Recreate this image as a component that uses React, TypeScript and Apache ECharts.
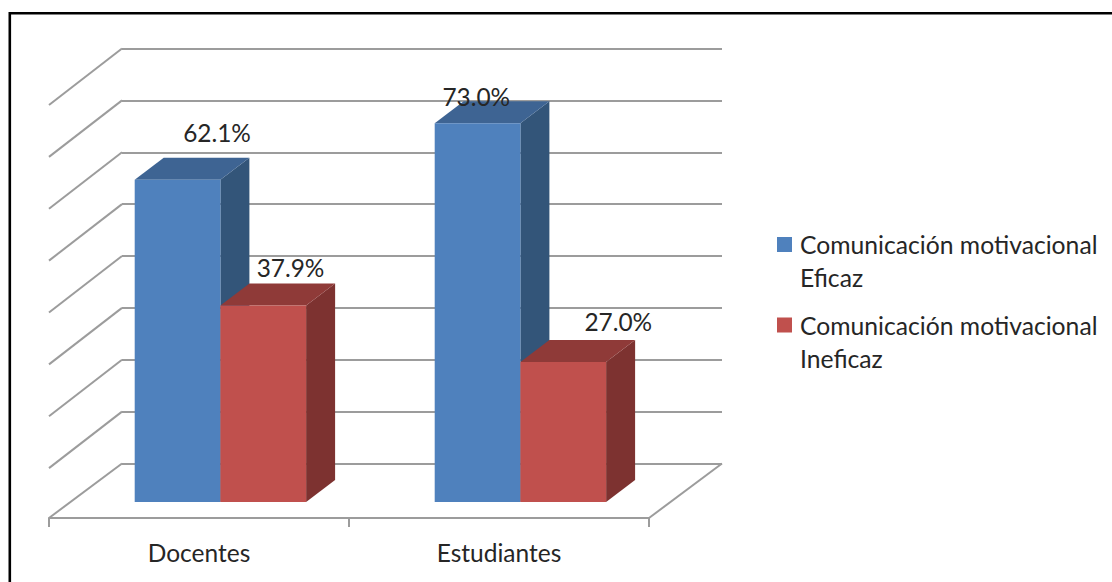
import React, { useEffect, useRef } from "react";
import * as echarts from "echarts";

const categories = ["Docentes", "Estudiantes"];
const seriesNames = ["Comunicación motivacional Eficaz", "Comunicación motivacional Ineficaz"];
const eficaz = [62.1, 73.0];
const ineficaz = [37.9, 27.0];
const yTicks = [0, 10, 20, 30, 40, 50, 60, 70, 80];

const FONT = "Lato";
const TEXT = "#262626";
const GRID_LINE = "#9c9c9c";

const faces = [
  { front: "#4f81bd", side: "#335579", top: "#3e6493" },
  { front: "#c0504d", side: "#7d3230", top: "#8f3a38" },
];
// Hand-placed label offsets from the front top centre of each bar, as in the original.
const labelNudge = [
  [[39.5, -47], [-1.3, -27]],
  [[27.3, -38], [55, -40.6]],
];

const DEPTH_X = 29;
const DEPTH_Y = 22;
const BAR_BAND = 85.7 / 300;

const barRender = (seriesIdx: number, fmtValues: number[]) => (params: any, api: any) => {
  const cat = api.value(0);
  const val = api.value(1);
  const [cx, yTop] = api.coord([cat, val]);
  const [, yBase] = api.coord([cat, 0]);
  const w = api.size([1, 0])[0] * BAR_BAND;
  const x0 = seriesIdx === 0 ? cx - w : cx;
  const x1 = x0 + w;
  const f = faces[seriesIdx];
  const n = labelNudge[seriesIdx][cat];
  const poly = (points: number[][], fill: string) => ({
    type: "polygon",
    shape: { points },
    style: { fill, stroke: null },
  });
  return {
    type: "group",
    children: [
      poly(
        [[x1, yTop], [x1 + DEPTH_X, yTop - DEPTH_Y], [x1 + DEPTH_X, yBase - DEPTH_Y], [x1, yBase]],
        f.side
      ),
      poly(
        [[x0, yTop], [x0 + DEPTH_X, yTop - DEPTH_Y], [x1 + DEPTH_X, yTop - DEPTH_Y], [x1, yTop]],
        f.top
      ),
      poly([[x0, yTop], [x1, yTop], [x1, yBase], [x0, yBase]], f.front),
      {
        type: "text",
        x: (x0 + x1) / 2 + n[0],
        y: yTop + n[1],
        z2: 50,
        style: {
          text: fmtValues[cat].toFixed(1) + "%",
          fontFamily: FONT,
          fontSize: 24.4,
          fill: TEXT,
          align: "center",
          verticalAlign: "middle",
        },
      },
    ],
  };
};

const wallRender = (params: any, api: any) => {
  const v = api.value(1);
  const [cx, y] = api.coord([0, v]);
  const bw = api.size([1, 0])[0];
  const left = cx - bw / 2;
  const line = (x1: number, y1: number, x2: number, y2: number) => ({
    type: "line",
    shape: { x1, y1, x2, y2 },
    style: { stroke: GRID_LINE, lineWidth: 2 },
  });
  const dy = v === 0 ? 54.5 : 56.5;
  const children: any[] = [line(left, y, left - 73, y + dy)];
  if (v === 0) children.push(line(left + 2 * bw, y, left + 2 * bw - 73, y + dy));
  return { type: "group", children };
};

const legendIcon = "path://M0 0L0.01 0M0 9H15V24H0ZM18 66L18.01 66";

export default function App() {
  const ref = useRef<HTMLDivElement>(null);
  useEffect(() => {
    const chart = echarts.init(ref.current!, undefined, { renderer: "svg" });
    chart.setOption({
      animation: false,
      backgroundColor: "#ffffff",
      grid: [
        { left: 70.4, top: 87, width: 600, height: 415 },
        { left: 49, top: 418, width: 600, height: 100 },
        { left: 122, top: 48.5, width: 600, height: 415 },
      ],
      xAxis: [
        { type: "category", gridIndex: 0, data: categories, show: false },
        {
          type: "category",
          gridIndex: 1,
          data: categories,
          axisLine: { lineStyle: { color: GRID_LINE, width: 2 } },
          axisTick: { show: true, length: 9, alignWithLabel: false, lineStyle: { color: GRID_LINE, width: 2 } },
          axisLabel: { fontFamily: FONT, fontSize: 24.5, color: TEXT, margin: 22 },
        },
        { type: "category", gridIndex: 2, data: categories, show: false },
      ],
      yAxis: [
        { type: "value", gridIndex: 0, min: 0, max: 80, interval: 10, show: false },
        { type: "value", gridIndex: 1, min: 0, max: 80, interval: 10, show: false },
        {
          type: "value",
          gridIndex: 2,
          min: 0,
          max: 80,
          interval: 10,
          axisLine: { show: false },
          axisTick: { show: false },
          axisLabel: { show: false },
          splitLine: { show: true, lineStyle: { color: GRID_LINE, width: 2 } },
        },
      ],
      legend: {
        orient: "vertical",
        left: 777,
        top: 228,
        padding: 0,
        itemWidth: 18,
        itemHeight: 66,
        itemGap: 14.5,
        icon: legendIcon,
        data: seriesNames,
        selectedMode: false,
        formatter: (name: string) => name.replace(" motivacional ", " motivacional\n"),
        textStyle: { fontFamily: FONT, fontSize: 24.7, color: TEXT, lineHeight: 33 },
      },
      graphic: [
        {
          type: "polyline",
          shape: { points: [[9.8, 582], [9.8, 13.3], [1112, 13.3]] },
          style: { stroke: "#000000", lineWidth: 2.6, fill: null },
          silent: true,
        },
      ],
      series: [
        {
          type: "custom",
          name: "walls",
          xAxisIndex: 2,
          yAxisIndex: 2,
          silent: true,
          z: 1,
          data: yTicks.map((v) => [0, v]),
          renderItem: wallRender,
        },
        {
          type: "custom",
          name: seriesNames[0],
          xAxisIndex: 0,
          yAxisIndex: 0,
          silent: true,
          z: 3,
          itemStyle: { color: faces[0].front },
          data: eficaz.map((v, i) => [i, v]),
          renderItem: barRender(0, eficaz),
        },
        {
          type: "custom",
          name: seriesNames[1],
          xAxisIndex: 0,
          yAxisIndex: 0,
          silent: true,
          z: 4,
          itemStyle: { color: faces[1].front },
          data: ineficaz.map((v, i) => [i, v]),
          renderItem: barRender(1, ineficaz),
        },
      ],
    });
    return () => chart.dispose();
  }, []);
  return (
    <div
      ref={ref}
      style={{ position: "fixed", left: 0, top: 0, width: 1112, height: 582 }}
    />
  );
}
